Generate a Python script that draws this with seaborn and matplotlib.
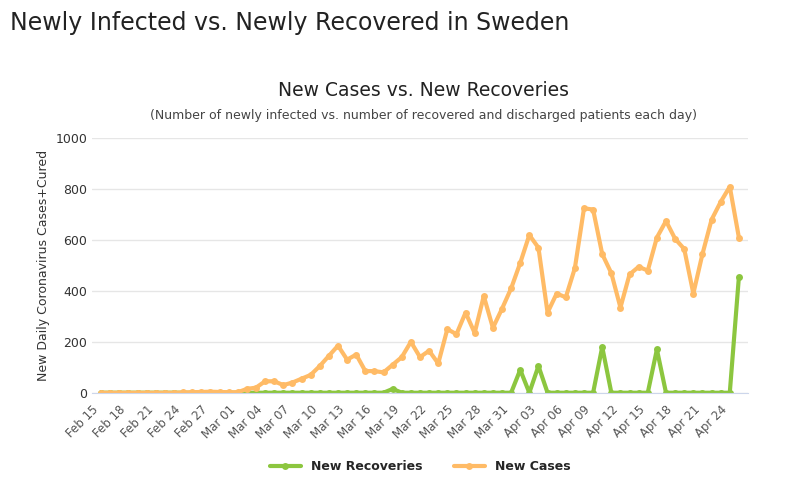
import pandas as pd
import matplotlib.pyplot as plt
import seaborn as sns

dates = pd.date_range("2020-02-15", "2020-04-25", freq="D")

new_cases = [0, 0, 0, 0, 0, 0, 0, 0, 0, 1, 2, 3, 4, 3, 2,
             2, 15, 20, 45, 45, 30, 40, 55, 70, 105, 145, 185, 130, 150,
             85, 85, 80, 110, 140, 200, 140, 165, 115, 250, 230, 315, 235, 380,
             255, 330, 410, 510, 620, 570, 315, 390, 375, 490, 725, 720, 545,
             470, 335, 465, 495, 480, 610, 675, 605, 565, 390, 545, 680, 750,
             810, 610]
new_recoveries = [0] * len(dates)
spikes = {"2020-03-18": 15, "2020-04-01": 90, "2020-04-03": 105,
          "2020-04-10": 180, "2020-04-16": 170, "2020-04-25": 455}
for d, v in spikes.items():
    new_recoveries[dates.get_loc(pd.Timestamp(d))] = v

df = pd.DataFrame({"Date": dates, "New Recoveries": new_recoveries, "New Cases": new_cases})
long = df.melt(id_vars="Date", var_name="Series", value_name="Value")

sns.set_style("white")
plt.rcParams['font.family'] = ['DejaVu Sans']

fig = plt.figure(figsize=(8, 4.94), dpi=100)
ax = fig.add_axes([0.115, 0.205, 0.82, 0.515])

palette = {"New Recoveries": "#8cc63f", "New Cases": "#ffbb66"}
sns.lineplot(data=long, x="Date", y="Value", hue="Series", palette=palette,
             marker="o", markersize=5, markeredgewidth=0, linewidth=3, ax=ax)

ax.set_ylim(0, 1000)
ax.set_yticks(range(0, 1001, 200))
ax.set_xlim(dates[0] - pd.Timedelta(days=1), dates[-1] + pd.Timedelta(days=1))
ticks = dates[::3]
ax.set_xticks(ticks)
ax.set_xticklabels([d.strftime("%b %d") for d in ticks], rotation=45, ha="right",
                   fontsize=8.5, color="#555555")
ax.tick_params(axis="y", labelsize=9, colors="#333333", length=0)
ax.tick_params(axis="x", length=4, color="#ccd6eb")
ax.grid(axis="y", color="#e6e6e6", linewidth=1)
for s in ["top", "right", "left"]:
    ax.spines[s].set_visible(False)
ax.spines["bottom"].set_color("#ccd6eb")
ax.set_xlabel("")
ax.set_ylabel("New Daily Coronavirus Cases+Cured", fontsize=9, color="#333333")

ax.legend(loc="upper center", bbox_to_anchor=(0.5, -0.22), ncol=2, frameon=False,
          handlelength=2.5, columnspacing=2.5, prop={"weight": "bold", "size": 9})

fig.text(0.012, 0.94, "Newly Infected vs. Newly Recovered in Sweden", fontsize=17, color="#222222")
fig.text(0.53, 0.805, "New Cases vs. New Recoveries", ha="center", fontsize=13.5, color="#222222")
fig.text(0.53, 0.76, "(Number of newly infected vs. number of recovered and discharged patients each day)",
         ha="center", fontsize=9, color="#444444")

fig.savefig("out.png", dpi=100)
